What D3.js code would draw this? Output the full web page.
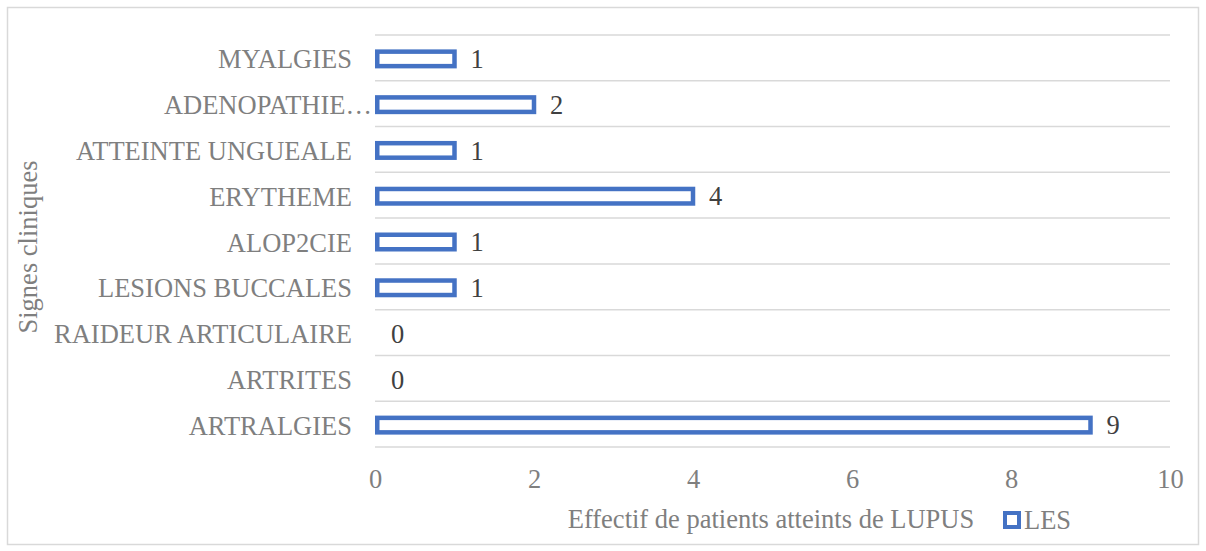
<!DOCTYPE html>
<html>
<head>
<meta charset="utf-8">
<script src="https://cdn.jsdelivr.net/npm/d3@7"></script>
<style>
  html, body { margin: 0; padding: 0; background: #fff; }
  svg { display: block; font-family: "Liberation Serif", "Times New Roman", serif; }
</style>
</head>
<body>
<svg id="chart" width="1206" height="551"></svg>
<script>
// Clinical signs (top to bottom) and patient counts
const categories = ["MYALGIES", "ADENOPATHIE…", "ATTEINTE UNGUEALE", "ERYTHEME", "ALOP2CIE",
  "LESIONS BUCCALES", "RAIDEUR ARTICULAIRE", "ARTRITES", "ARTRALGIES"];
const values = [1, 2, 1, 4, 1, 1, 0, 0, 9];
const xTicks = [0, 2, 4, 6, 8, 10];
const seriesName = "LES";
const xTitle = "Effectif de patients atteints de LUPUS";
const yTitle = "Signes cliniques";

const svg = d3.select("#chart");
const W = 1206, H = 551;
const plot = { left: 375, right: 1170, top: 35, bottom: 447 };
const blue = "#4472C4";
const grid = "#d9d9d9";
const labelColor = "#7f7f7f";
const valueColor = "#404040";
const fs = 26.5;

// outer chart frame
svg.append("rect")
  .attr("x", 7.5).attr("y", 7.5)
  .attr("width", W - 15).attr("height", H - 14)
  .attr("fill", "#fff").attr("stroke", "#d9d9d9").attr("stroke-width", 1.5);

const x = d3.scaleLinear().domain([0, 10]).range([plot.left, plot.right]);
const y = d3.scaleBand().domain(categories).range([plot.top, plot.bottom]).paddingInner(0).paddingOuter(0);

// horizontal gridlines at category boundaries
const bounds = categories.map(c => y(c)).concat([plot.bottom]);
svg.append("g").selectAll("line").data(bounds).join("line")
  .attr("x1", plot.left).attr("x2", plot.right)
  .attr("y1", d => d).attr("y2", d => d)
  .attr("stroke", grid).attr("stroke-width", 1.5);

// bars: outlined rectangles
const barH = 19, sw = 4.5;
const rows = categories.map((c, i) => ({ c, v: values[i] }));
svg.append("g").selectAll("rect").data(rows.filter(d => d.v > 0))
  .join("rect")
  .attr("x", x(0) + sw / 2)
  .attr("y", d => y(d.c) + y.bandwidth() / 2 - barH / 2 + sw / 2 + 1)
  .attr("width", d => x(d.v) - x(0) - sw / 2)
  .attr("height", barH - sw)
  .attr("fill", "#fff").attr("stroke", blue).attr("stroke-width", sw);

// value labels
svg.append("g").selectAll("text").data(rows)
  .join("text")
  .attr("x", d => x(d.v) + 16)
  .attr("y", d => y(d.c) + y.bandwidth() / 2 + 1)
  .attr("dy", "0.35em")
  .attr("font-size", fs).attr("fill", valueColor)
  .text(d => d.v);

// category axis labels
const yAxis = svg.append("g").attr("transform", `translate(${plot.left},0)`)
  .call(d3.axisLeft(y).tickSize(0).tickPadding(23));
yAxis.select(".domain").remove();
yAxis.selectAll("text")
  .attr("font-family", "Liberation Serif, serif")
  .attr("font-size", fs).attr("fill", labelColor)
  .attr("dy", "0.4em");
yAxis.selectAll("text").filter(d => d === "ADENOPATHIE…").attr("x", -3);

// value axis tick labels
const xAxis = svg.append("g").attr("transform", `translate(0,${plot.bottom})`)
  .call(d3.axisBottom(x).tickValues(xTicks).tickSize(0).tickPadding(22).tickFormat(d3.format("d")));
xAxis.select(".domain").remove();
xAxis.selectAll("text")
  .attr("font-family", "Liberation Serif, serif")
  .attr("font-size", fs).attr("fill", labelColor);

// axis titles
svg.append("text")
  .attr("x", 771).attr("y", 528)
  .attr("text-anchor", "middle")
  .attr("font-size", fs).attr("fill", labelColor)
  .text(xTitle);

svg.append("text")
  .attr("transform", `translate(37,${(plot.top + plot.bottom) / 2 + 6}) rotate(-90)`)
  .attr("text-anchor", "middle")
  .attr("font-size", fs).attr("fill", labelColor)
  .text(yTitle);

// legend
const lg = svg.append("g").attr("transform", "translate(1003,511)");
lg.append("rect").attr("x", 2).attr("y", 2).attr("width", 14).attr("height", 14)
  .attr("fill", "#fff").attr("stroke", blue).attr("stroke-width", 4);
lg.append("text").attr("x", 21).attr("y", 18)
  .attr("font-size", fs).attr("fill", labelColor).text(seriesName);
</script>
</body>
</html>
